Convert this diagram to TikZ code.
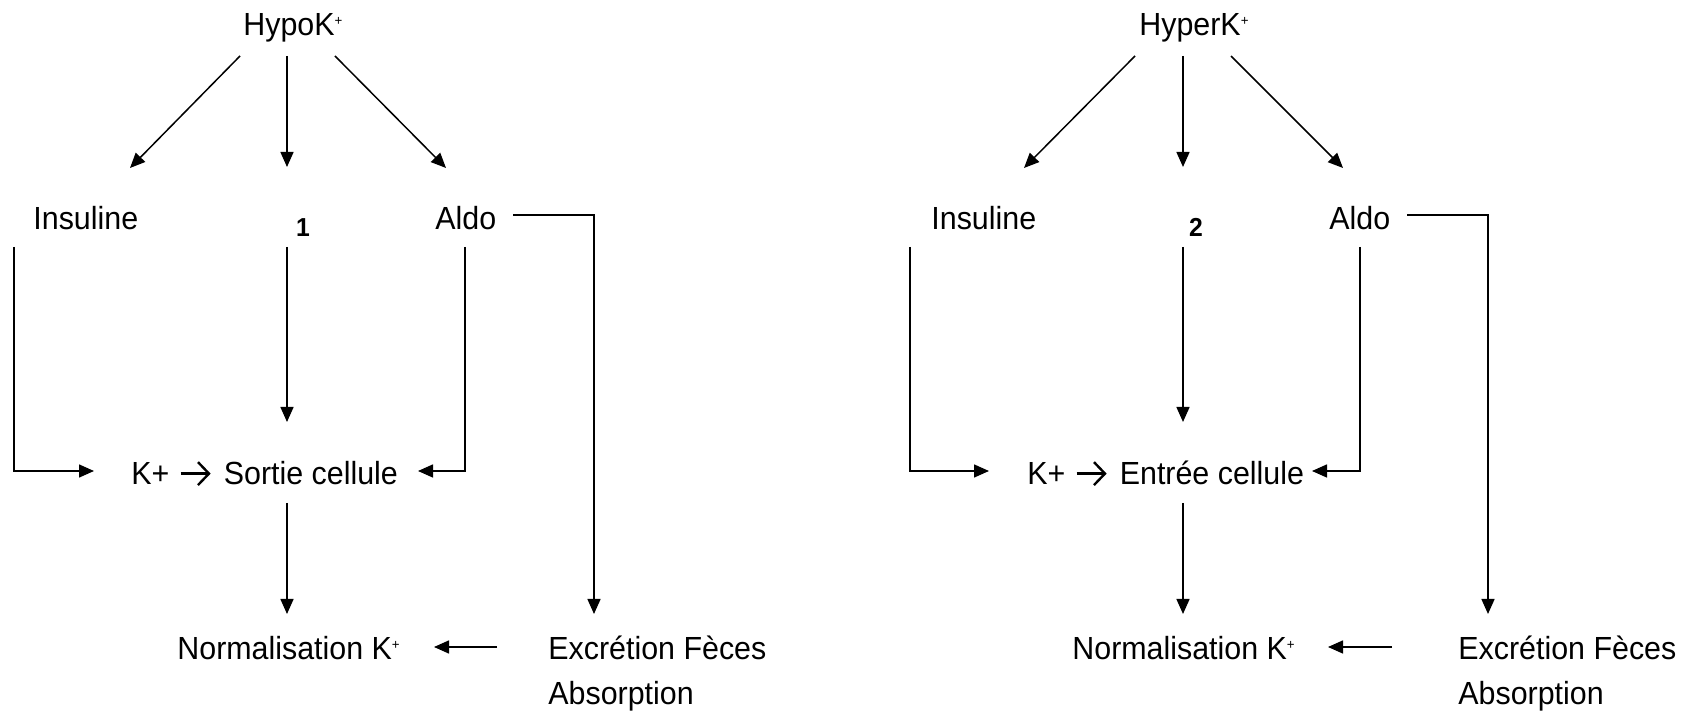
\documentclass[tikz,border=0pt]{standalone}
\usepackage{fontspec}
\setmainfont[FakeStretch=0.95]{Liberation Sans}
\usetikzlibrary{arrows.meta}
\newcommand\kplus{\raisebox{5pt}{\fontsize{7}{7}\selectfont +}}
\newcommand\rarr{\tikz[baseline=-5.7pt]\draw[line width=1.2pt,-{Straight Barb[length=5.5pt,width=11.5pt,line width=1.2pt]}] (0,0)--(15pt,0);}
\begin{document}
\begin{tikzpicture}[x=0.5pt,y=-0.5pt,
  lbl/.style={inner sep=0pt, anchor=base west, font=\fontsize{16}{19}\selectfont},
  num/.style={inner sep=0pt, anchor=base, font=\bfseries\fontsize{13}{15}\selectfont},
  conn/.style={line width=0.75pt, -{Triangle[length=7.5pt,width=6.5pt]}}]
\useasboundingbox (0,0) rectangle (1693,715);
% ---------- left diagram ----------
\node[lbl] (hypo) at (243,36) {HypoK\kplus};
\node[lbl] (ins1) at (33,230) {Insuline};
\node[num] (n1) at (303,237) {1};
\node[lbl] (aldo1) at (435,230) {Aldo};
\node[lbl] (cell1) at (131,485) {K+\hspace{5pt}\rarr\hspace{6pt}Sortie cellule};
\node[lbl] (norm1) at (177,660) {Normalisation K\kplus};
\node[lbl] (exc1) at (548,660) {Excrétion Fèces};
\node[lbl] (abs1) at (548,705) {Absorption};
\coordinate (h1l) at (240,56);  \coordinate (h1lt) at (130,168);
\coordinate (h1m) at (287,56);  \coordinate (h1mt) at (287,167);
\coordinate (h1r) at (335,56);  \coordinate (h1rt) at (446,168);
\coordinate (i1s) at (14,247);  \coordinate (i1t) at (94,471);
\coordinate (m1s) at (287,247); \coordinate (m1t) at (287,422);
\coordinate (a1s) at (465,247); \coordinate (a1t) at (418,471);
\coordinate (al1s) at (513,215); \coordinate (al1t) at (594,614);
\coordinate (c1s) at (287,503); \coordinate (c1t) at (287,614);
\coordinate (e1s) at (497,647); \coordinate (e1t) at (434,647);
\draw[conn] (h1l) -- (h1lt);
\draw[conn] (h1m) -- (h1mt);
\draw[conn] (h1r) -- (h1rt);
\draw[conn] (i1s) |- (i1t);
\draw[conn] (m1s) -- (m1t);
\draw[conn] (a1s) |- (a1t);
\draw[conn] (al1s) -| (al1t);
\draw[conn] (c1s) -- (c1t);
\draw[conn] (e1s) -- (e1t);
% ---------- right diagram ----------
\node[lbl] (hyper) at (1139,36) {HyperK\kplus};
\node[lbl] (ins2) at (931,230) {Insuline};
\node[num] (n2) at (1196,237) {2};
\node[lbl] (aldo2) at (1329,230) {Aldo};
\node[lbl] (cell2) at (1027,485) {K+\hspace{5pt}\rarr\hspace{6pt}Entrée cellule};
\node[lbl] (norm2) at (1072,660) {Normalisation K\kplus};
\node[lbl] (exc2) at (1458,660) {Excrétion Fèces};
\node[lbl] (abs2) at (1458,705) {Absorption};
\coordinate (h2l) at (1135,56);  \coordinate (h2lt) at (1024,168);
\coordinate (h2m) at (1183,56);  \coordinate (h2mt) at (1183,167);
\coordinate (h2r) at (1231,56);  \coordinate (h2rt) at (1343,168);
\coordinate (i2s) at (910,247);  \coordinate (i2t) at (989,471);
\coordinate (m2s) at (1183,247); \coordinate (m2t) at (1183,422);
\coordinate (a2s) at (1360,247); \coordinate (a2t) at (1312,471);
\coordinate (al2s) at (1407,215); \coordinate (al2t) at (1488,614);
\coordinate (c2s) at (1183,503); \coordinate (c2t) at (1183,614);
\coordinate (e2s) at (1392,647); \coordinate (e2t) at (1328,647);
\draw[conn] (h2l) -- (h2lt);
\draw[conn] (h2m) -- (h2mt);
\draw[conn] (h2r) -- (h2rt);
\draw[conn] (i2s) |- (i2t);
\draw[conn] (m2s) -- (m2t);
\draw[conn] (a2s) |- (a2t);
\draw[conn] (al2s) -| (al2t);
\draw[conn] (c2s) -- (c2t);
\draw[conn] (e2s) -- (e2t);
\end{tikzpicture}
\end{document}
